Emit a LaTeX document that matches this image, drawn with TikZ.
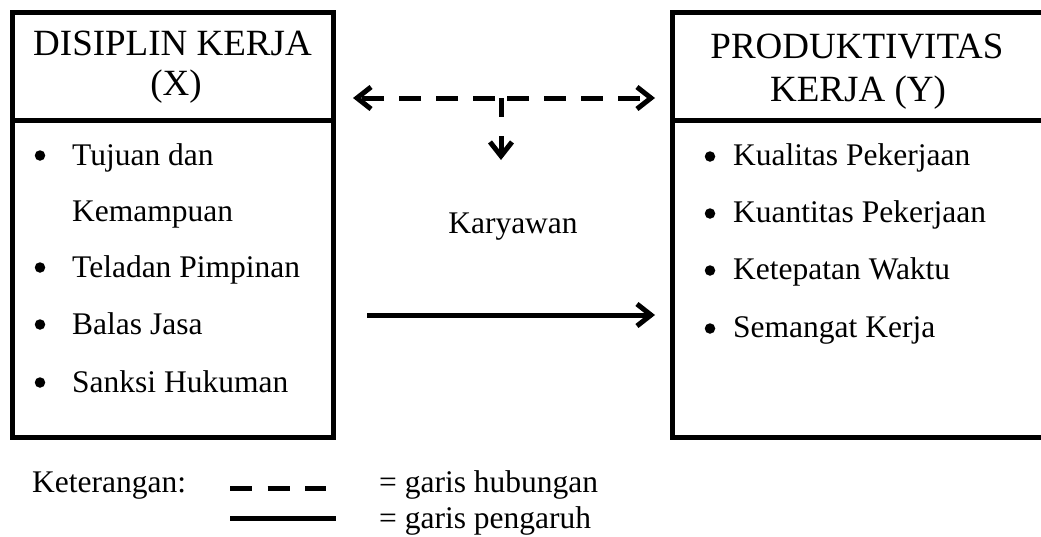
\documentclass[tikz,border=0pt]{standalone}
\usepackage{fontspec}
\setmainfont{Liberation Serif}
\usetikzlibrary{arrows.meta}
\begin{document}
\begin{tikzpicture}[x=1pt,y=-1pt,
  box/.style={draw, line width=5pt, inner sep=0pt, outer sep=0pt, rectangle},
  headfont/.style={font=\fontsize{37}{40}\selectfont},
  bodyfont/.style={font=\fontsize{31.5}{38}\selectfont},
  txt/.style={inner sep=0pt, anchor=base},
  item/.style={txt, bodyfont, anchor=base west},
  bul/.style={circle, fill=black, inner sep=0pt, minimum size=10.5pt},
  tipb/.tip={Straight Barb[length=14pt,width=22pt]},
  conn/.style={line width=5pt, line join=miter},
  relline/.style={conn, dash pattern=on 22pt off 15pt},
]
\useasboundingbox (0,0) rectangle (1041,536);
\clip (0,0) rectangle (1041,536);
\fill[white] (0,0) rectangle (1041,536);

% boxes
\node[box, minimum width=321pt, minimum height=108pt] (xhead) at (172.5,66) {};
\node[box, minimum width=321pt, minimum height=317pt] (xbody) at (172.5,278.5) {};
\node[box, minimum width=390pt, minimum height=108pt] (yhead) at (867,66) {};
\node[box, minimum width=390pt, minimum height=317pt] (ybody) at (867,278.5) {};

% headers
\node[txt, headfont] (xh1) at (172.5,55) {DISIPLIN KERJA};
\node[txt, headfont] (xh2) at (176,95) {(X)};
\node[txt, headfont] (yh1) at (857,58) {PRODUKTIVITAS};
\node[txt, headfont] (yh2) at (858,101) {KERJA (Y)};

% left items
\node[bul] (xb1) at (40,155.5) {};
\node[item] (xi1) at (72,165) {Tujuan dan};
\node[item] (xi1b) at (72,221) {Kemampuan};
\node[bul] (xb2) at (40,267.5) {};
\node[item] (xi2) at (72,277) {Teladan Pimpinan};
\node[bul] (xb3) at (40,324.5) {};
\node[item] (xi3) at (72,334) {Balas Jasa};
\node[bul] (xb4) at (40,382.5) {};
\node[item] (xi4) at (72,392) {Sanksi Hukuman};

% right items
\node[bul] (yb1) at (710,156.5) {};
\node[item] (yi1) at (733,165) {Kualitas Pekerjaan};
\node[bul] (yb2) at (710,213.5) {};
\node[item] (yi2) at (733,222) {Kuantitas Pekerjaan};
\node[bul] (yb3) at (710,270.5) {};
\node[item] (yi3) at (733,279) {Ketepatan Waktu};
\node[bul] (yb4) at (710,328.5) {};
\node[item] (yi4) at (733,337) {Semangat Kerja};

% middle label
\node[txt, bodyfont] (kar) at (513,233) {Karyawan};

% relation (dashed) arrows
\coordinate (mid) at (501,98);
\coordinate (down) at (501,160);
\draw[relline, dash phase=31pt, -{tipb}, shorten >=20pt] (mid) -- (xhead.east |- mid);
\draw[relline, dash phase=31pt, -{tipb}, shorten >=17pt] (mid) -- (yhead.west |- mid);
\draw[conn, dash pattern=on 19pt off 19pt, -{tipb}] (mid) -- (down);

% influence (solid) arrow
\coordinate (srow) at (0,315);
\draw[conn, -{tipb}, shorten <=34pt, shorten >=17pt] (xbody.east |- srow) -- (ybody.west |- srow);

% legend
\node[txt, bodyfont, anchor=base west] (ket) at (32,492) {Keterangan:};
\coordinate (l1a) at (230,488);
\coordinate (l1b) at (326,488);
\coordinate (l2a) at (230,518);
\coordinate (l2b) at (336,518);
\draw[conn, dash pattern=on 22pt off 15.5pt] (l1a) -- (l1b);
\draw[conn] (l2a) -- (l2b);
\node[txt, bodyfont, anchor=base west] (lg1) at (379,492) {= garis hubungan};
\node[txt, bodyfont, anchor=base west] (lg2) at (379,528) {= garis pengaruh};
\end{tikzpicture}
\end{document}
